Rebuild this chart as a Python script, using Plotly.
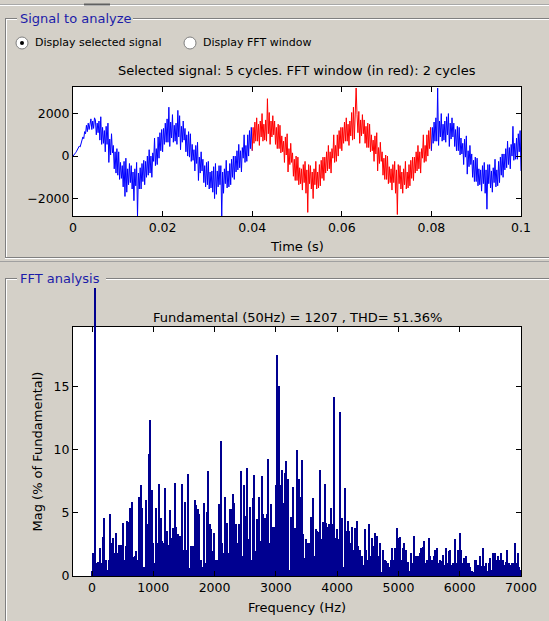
import plotly.graph_objects as go

W, H = 549, 621
BG = "#d4d0c8"
NAVY = "#000090"
PANEL_BLUE = "#1c1ca8"
FONT = "DejaVu Sans, Arial, sans-serif"

# ---------------- data ----------------
sample_period = 0.0002  # s

signal_before_window = [
    0, 40, 110, 160, 230, 300, 380, 470, 430, 600,
    700, 900, 820, 1150, 1050, 1450, 1150, 1550, 1250, 1600,
    1750, 1250, 1650, 1300, 1800, 1700, 1000, 1550, 1100, 1650,
    750, 1850, 550, 1350, 600, 1200, 200, 1400, 550, 1550,
    -300, 800, 50, 1050, 150, 500, -600, 200, -800, 350,
    -900, 200, -1100, -300, -1050, -450, -1450, -250, -1900, -100,
    -1700, -600, -1350, -350, -1250, -450, -1550, -750, -2100, -600,
    -1400, -300, -2850, -800, -1550, -550, -1550, -350, -1200, -200,
    -1350, -250, -1000, 0, -900, 300, -800, 0, -1000, 150,
    -250, 850, -450, 350, -400, 900, -100, 1100, 250, 1250,
    200, 1300, 550, 1550, 650, 1750, 650, 2300, 450, 1600,
    850, 1950, 650, 1450, 700, 1550, 550, 2150, 900, 1900,
    300, 1400, 650, 1650, 750, 1300, 200, 1000, 0, 1150,
    -50, 1050, -250, 550, -200, 300, -700, 500, -350, 650,
    -1150, -50, -800, 200, -700, -150, -1250, -450, -1450, -300,
    -1350, -250, -1550, -750, -1500, -700, -1700, -500, -2000, -350,
    -1800, -700, -1450, -450, -1350, -450, -2850, -750, -1750, -600,
    -1300, -200, -1500, -700, -1450, -350, -1350, -150, -1000, 0,
    -1100, 0, -750, 250, -650, 550, -550, 250, -750, 400,
    -100, 1000, -300, 500, -250, 1000, 0, 1200, 350, 1350,
]

signal_fft_window = [
    250, 1350, 600, 1600, 700, 1800, 700, 1500, 500, 1650,
    900, 2000, 700, 1500, 750, 1700, 700, 2700, 1050, 2050,
    550, 1650, 900, 1900, 1000, 1650, 550, 1350, 350, 1500,
    350, 1450, 150, 950, 200, 700, -300, 900, 50, 1050,
    -750, 350, -400, 600, -300, 150, -950, -150, -1150, 0,
    -1150, -50, -1350, -550, -1300, -600, -1600, -400, -1250, -250,
    -1750, -650, -2650, -400, -1300, -450, -1550, -750, -2000, -600,
    -1350, -250, -1550, -750, -1500, -400, -1400, -200, -1050, -50,
    -1150, -50, -800, 200, -700, 500, -600, 200, -800, 350,
    -100, 1000, -300, 500, -250, 1000, 0, 1200, 350, 1350,
    250, 1350, 600, 1600, 700, 1800, 700, 1500, 500, 1650,
    950, 2050, 750, 2300, 800, 1750, 3200, 1950, 1100, 2100,
    600, 1700, 950, 1950, 1050, 1700, 600, 1400, 400, 1550,
    400, 1500, 200, 1000, 250, 750, -250, 950, 100, 1100,
    -700, 400, -350, 650, -250, 200, -900, -100, -1100, 50,
    -1100, 0, -1300, -500, -1250, -600, -1600, -400, -1250, -250,
    -1750, -650, -2750, -400, -1300, -450, -1550, -750, -1750, -600,
    -1350, -250, -1550, -750, -1500, -400, -1400, -200, -1050, -50,
    -1150, -50, -800, 200, -700, 500, -600, 200, -800, 350,
    -100, 1000, -300, 500, -250, 1000, 0, 1200, 350, 1350,
]

signal_after_window = [
    250, 1350, 600, 1600, 700, 1800, 700, 3200, 500, 1650,
    900, 2000, 700, 1500, 750, 1650, 650, 1850, 1000, 2000,
    450, 1550, 800, 1800, 900, 1550, 450, 1250, 250, 1400,
    250, 1350, 50, 850, 100, 600, -400, 800, -50, 950,
    -850, 250, -500, 500, -400, 100, -1000, -200, -1200, -50,
    -1200, -100, -1400, -600, -1350, -650, -1650, -450, -1300, -300,
    -1750, -650, -2500, -400, -1300, -400, -1500, -700, -1700, -550,
    -1250, -150, -1450, -650, -1400, -250, -1250, -50, -900, 100,
    -1000, 100, -650, 350, -550, 700, -400, 400, -600, 550,
    0, 1400, -200, 600, -150, 850, -150, 1050, 200, 1200,
    -700,
]

freq_step = 25  # Hz (2-cycle window of 50 Hz)
harmonic_mag = [
    0.4, 1.8, 100, 1.0, 1.1, 2.2, 1.0, 3.1, 4.6, 1.3, 0.5, 1.3, 4.9, 2.6, 3.0, 1.8, 3.4, 1.8, 2.5, 2.5,
    4.2, 1.3, 2.4, 4.4, 4.3, 5.4, 5.9, 1.5, 1.6, 2.0, 1.3, 6.3, 7.2, 5.4, 0.7, 6.0, 4.1, 9.7, 12.4, 6.8,
    2.6, 1.0, 5.4, 2.6, 7.3, 4.6, 2.8, 2.6, 7.0, 3.6, 2.5, 5.2, 3.0, 3.8, 7.4, 3.9, 3.3, 3.2, 3.2, 7.3,
    2.1, 5.9, 2.1, 8.1, 0.6, 2.4, 2.4, 6.0, 5.6, 5.3, 4.9, 1.3, 0.7, 5.8, 1.0, 5.1, 8.3, 4.1, 3.7, 2.0,
    3.4, 1.3, 1.3, 5.7, 10.7, 2.6, 1.8, 6.3, 4.2, 1.8, 5.3, 5.3, 6.5, 5.8, 4.1, 2.6, 4.1, 8.3, 1.6, 7.2,
    4.8, 8.6, 2.9, 5.5, 1.3, 6.2, 8.0, 2.0, 4.5, 6.3, 2.8, 7.9, 4.9, 4.6, 4.9, 9.3, 2.6, 5.7, 3.9, 3.9,
    7.2, 17.5, 15.1, 7.2, 8.4, 5.8, 8.2, 9.1, 7.7, 0.5, 4.7, 7.1, 3.8, 3.8, 10.0, 7.7, 6.3, 9.2, 3.3, 1.4,
    2.9, 2.6, 2.6, 4.7, 6.2, 1.6, 3.7, 3.6, 3.5, 8.4, 2.9, 4.3, 7.3, 4.2, 3.9, 4.1, 5.4, 4.1, 14.2, 3.0,
    3.7, 2.9, 13.0, 4.6, 0.7, 7.0, 3.6, 4.4, 3.6, 2.6, 3.9, 2.1, 3.8, 4.4, 2.4, 2.1, 1.6, 0.9, 3.7, 2.1,
    1.3, 4.1, 1.6, 3.0, 2.4, 3.4, 3.2, 1.6, 2.6, 0.3, 2.1, 1.3, 1.2, 1.0, 0.7, 1.3, 2.2, 1.3, 2.2, 3.8,
    3.0, 3.1, 1.3, 2.2, 2.6, 2.1, 1.1, 0.4, 1.8, 1.0, 3.2, 1.6, 1.6, 1.6, 1.8, 2.2, 2.3, 2.8, 1.0, 1.3,
    3.0, 1.6, 1.3, 1.6, 2.1, 2.2, 1.0, 1.3, 1.2, 1.7, 0.9, 2.2, 1.0, 2.0, 2.1, 0.9, 1.0, 2.9, 1.0, 2.1,
    3.4, 2.1, 1.0, 1.4, 1.6, 1.0, 1.0, 0.7, 0.4, 0.3, 1.3, 1.3, 0.9, 1.6, 0.8, 2.2, 0.8, 1.0, 0.4, 1.0,
    1.4, 0.5, 1.8, 1.8, 1.3, 1.6, 1.3, 1.8, 1.3, 0.9, 1.1, 2.1, 1.0, 0.9, 1.0, 1.0, 2.6, 1.0, 1.8, 0.7,
    0.5,
]

top_title = "Selected signal: 5 cycles. FFT window (in red): 2 cycles"
fft_title = "Fundamental (50Hz) = 1207 , THD= 51.36%"
time_ticks = [0, 0.02, 0.04, 0.06, 0.08, 0.1]
time_tick_text = ["0", "0.02", "0.04", "0.06", "0.08", "0.1"]
signal_ticks = [-2000, 0, 2000]
freq_ticks = [0, 1000, 2000, 3000, 4000, 5000, 6000, 7000]
mag_ticks = [0, 5, 10, 15]

# ---------------- helpers ----------------
def px(x):
    return x / W

def py(y):
    return 1 - y / H

n1 = len(signal_before_window)
n2 = len(signal_fft_window)
n3 = len(signal_after_window)
t1 = [i * sample_period for i in range(n1 + 1)]
y1 = signal_before_window + [signal_fft_window[0]]
t2 = [(n1 + i) * sample_period for i in range(n2 + 1)]
y2 = signal_fft_window + [signal_after_window[0]]
t3 = [(n1 + n2 + i) * sample_period for i in range(n3)]
y3 = signal_after_window

freqs = [k * freq_step for k in range(len(harmonic_mag))]
k_fund = harmonic_mag.index(max(harmonic_mag))

fig = go.Figure()
fig.add_trace(go.Scatter(x=t1, y=y1, mode="lines", line=dict(color="#0000ff", width=1),
                         xaxis="x", yaxis="y", showlegend=False, hoverinfo="skip"))
fig.add_trace(go.Scatter(x=t2, y=y2, mode="lines", line=dict(color="#ff0000", width=1),
                         xaxis="x", yaxis="y", showlegend=False, hoverinfo="skip"))
fig.add_trace(go.Scatter(x=t3, y=y3, mode="lines", line=dict(color="#0000ff", width=1),
                         xaxis="x", yaxis="y", showlegend=False, hoverinfo="skip"))

bar_w = freq_step * 0.8
fig.add_trace(go.Bar(x=freqs, y=harmonic_mag, width=bar_w, marker=dict(color=NAVY, line=dict(width=0)),
                     xaxis="x2", yaxis="y2", showlegend=False, hoverinfo="skip"))
# fundamental bar overflowing above the axes (as in the MATLAB GUI)
fig.add_trace(go.Bar(x=[freqs[k_fund]], y=[harmonic_mag[k_fund]], width=bar_w,
                     marker=dict(color=NAVY, line=dict(width=0)),
                     xaxis="x3", yaxis="y3", showlegend=False, hoverinfo="skip"))

# plot geometry (pixels)
L, R = 73, 521
T1, B1 = 87, 216
T2, B2 = 327, 576
OVER_TOP = 288

axis_common = dict(showline=True, linecolor="black", linewidth=1, mirror="allticks",
                   ticks="inside", ticklen=5, tickcolor="black", showgrid=False, zeroline=False,
                   automargin=False, tickfont=dict(family=FONT, size=12.5, color="black"))

fig.update_layout(
    template="none",
    autosize=False,
    width=W, height=H, margin=dict(l=0, r=0, t=0, b=0, pad=0),
    paper_bgcolor=BG, plot_bgcolor="rgba(0,0,0,0)",
    font=dict(family=FONT, size=12, color="black"),
    bargap=0,
    xaxis=dict(domain=[px(L), px(R)], range=[0, 0.1], tickvals=time_ticks, ticktext=time_tick_text,
               anchor="y", **axis_common),
    yaxis=dict(domain=[py(B1), py(T1)], range=[-2820, 3250], tickvals=signal_ticks,
               anchor="x", **axis_common),
    xaxis2=dict(domain=[px(L), px(R)], range=[-310, 7000], tickvals=freq_ticks,
                anchor="y2", **axis_common),
    yaxis2=dict(domain=[py(B2), py(T2)], range=[0, 19.76], tickvals=mag_ticks,
                anchor="x2", **axis_common),
    xaxis3=dict(domain=[px(L), px(R)], range=[-310, 7000], visible=False, anchor="y3"),
    yaxis3=dict(domain=[py(B2), py(OVER_TOP)], range=[0, 100], visible=False, anchor="x3"),
)

shapes = []
for xr, yr in (("x domain", "y domain"), ("x2 domain", "y2 domain")):
    shapes.append(dict(type="rect", xref=xr, yref=yr, x0=0, x1=1, y0=0, y1=1,
                       fillcolor="white", line=dict(width=0), layer="below"))

def hline(y, x0, x1, color, width=1):
    return dict(type="line", xref="paper", yref="paper", x0=px(x0), x1=px(x1),
                y0=py(y), y1=py(y), line=dict(color=color, width=width), layer="below")

def vline(x, y0, y1, color, width=1):
    return dict(type="line", xref="paper", yref="paper", x0=px(x), x1=px(x),
                y0=py(y0), y1=py(y1), line=dict(color=color, width=width), layer="below")

DARK = "#808080"
LIGHT = "#ffffff"
shapes += [hline(4.5, 0, 549, "#a8a8a8"), hline(5.5, 0, 549, LIGHT), hline(4.5, 84, 110, "#606060", 2)]
shapes += [hline(18.5, 5, 17, DARK), hline(19.5, 6, 17, LIGHT),
           hline(18.5, 133, 549, DARK), hline(19.5, 133, 549, LIGHT),
           vline(5.5, 18.5, 257, DARK), vline(6.5, 19.5, 257, LIGHT)]
shapes += [hline(257.5, 5, 549, DARK), hline(258.5, 5, 549, LIGHT),
           hline(261.5, 0, 549, "#a0a0a0")]
shapes += [hline(278.5, 5, 17, DARK), hline(279.5, 6, 17, LIGHT),
           hline(278.5, 106, 549, DARK), hline(279.5, 106, 549, LIGHT),
           vline(5.5, 278.5, 621, DARK), vline(6.5, 279.5, 621, LIGHT)]
for cx, sel in ((22, True), (190, False)):
    shapes.append(dict(type="circle", xref="paper", yref="paper",
                       x0=px(cx - 6), x1=px(cx + 6), y0=py(43 + 6), y1=py(43 - 6),
                       fillcolor="white", line=dict(color="#808080", width=1)))
    if sel:
        shapes.append(dict(type="circle", xref="paper", yref="paper",
                           x0=px(cx - 2), x1=px(cx + 2), y0=py(43 + 2), y1=py(43 - 2),
                           fillcolor="black", line=dict(color="black", width=0)))
fig.update_layout(shapes=shapes)

ann = []
def text(x, y, s, size=12, color="black", xanchor="left", angle=0):
    ann.append(dict(x=px(x), y=py(y), xref="paper", yref="paper", text=s, showarrow=False,
                    xanchor=xanchor, yanchor="middle", textangle=angle,
                    font=dict(family=FONT, size=size, color=color)))

text(18, 18, "Signal to analyze", size=13, color=PANEL_BLUE)
text(18, 278, "FFT analysis", size=13, color=PANEL_BLUE)
text(33, 43, "Display selected signal", size=11)
text(201, 43, "Display FFT window", size=11)
text((L + R) / 2, 70, top_title, size=13, xanchor="center")
text((L + R) / 2, 246, "Time (s)", size=13, xanchor="center")
text((L + R) / 2, 317, fft_title, size=13, xanchor="center")
text((L + R) / 2, 607, "Frequency (Hz)", size=13, xanchor="center")
text(37, (T2 + B2) / 2, "Mag (% of Fundamental)", size=13, xanchor="center", angle=-90)
fig.update_layout(annotations=ann)

fig.write_html("out.html", config={"responsive": False})
